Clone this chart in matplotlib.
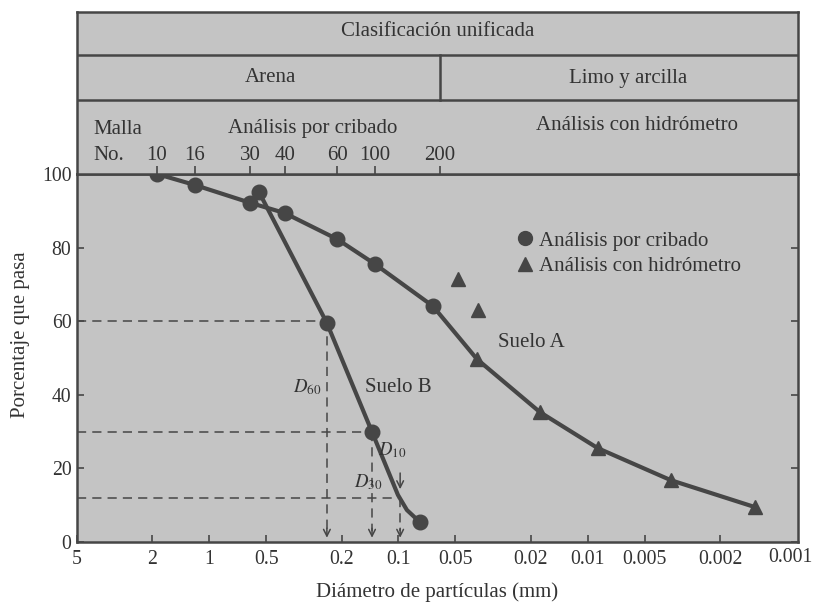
import matplotlib
matplotlib.use("Agg")
import matplotlib.pyplot as plt
from matplotlib.lines import Line2D
from matplotlib.ticker import NullLocator

plt.rcParams['font.family'] = ['Liberation Serif', 'DejaVu Serif']
plt.rcParams['mathtext.fontset'] = 'stix'

# ---------------- data ----------------
# Soil A - sieve analysis (mm, % passing)
a_sieve_d = [1.89, 1.19, 0.61, 0.40, 0.211, 0.133, 0.0658]
a_sieve_p = [100, 97, 92.2, 89.4, 82.3, 75.5, 64.1]
# Soil A - hydrometer analysis on the curve
a_hyd_d = [0.0385, 0.0179, 0.00885, 0.00364, 0.00131]
a_hyd_p = [49.7, 35.3, 25.5, 16.8, 9.5]
# Hydrometer points off the curve
off_hyd_d = [0.0485, 0.038]
off_hyd_p = [71.5, 63.0]
# Soil B - sieve analysis
b_sieve_d = [0.546, 0.239, 0.138, 0.0771]
b_sieve_p = [95.1, 59.5, 29.9, 5.4]
# Soil B curve trace
b_curve_d = [0.546, 0.239, 0.138, 0.1007, 0.0903, 0.0771]
b_curve_p = [95.1, 59.5, 29.9, 12.8, 8.7, 5.4]
# D60, D30, D10 read lines
d_labels = ['60', '30', '10']
d_values = [0.239, 0.138, 0.098]
d_levels = [60, 30, 12]

# Sieve mesh numbers (top scale)
mesh_no = ['10', '16', '30', '40', '60', '100', '200']
mesh_mm = [1.89, 1.19, 0.61, 0.40, 0.211, 0.133, 0.0605]

x_ticks = [5, 2, 1, 0.5, 0.2, 0.1, 0.05, 0.02, 0.01, 0.005, 0.002]
x_ticklabels = ['5', '2', '1', '0.5', '0.2', '0.1', '0.05', '0.02', '0.01', '0.005', '0.002']
x_last_label = '0.001'
y_ticks = [0, 20, 40, 60, 80, 100]

legend_labels = ['Análisis por cribado', 'Análisis con hidrómetro']

# ---------------- styling ----------------
BG = '#c4c4c4'
INK = '#464646'
TXT = '#333333'
FS = 15
TFS = 14.2
XLIM = (5, 0.000774)

W, H = 814, 605
fig = plt.figure(figsize=(W / 100, H / 100), dpi=100)
fig.patch.set_facecolor('white')

L, R, B, T = 77, 798, 542, 174
HT = 12
ax = fig.add_axes([L / W, 1 - B / H, (R - L) / W, (B - T) / H])
hx = fig.add_axes([L / W, 1 - T / H, (R - L) / W, (T - HT) / H])

for a in (ax, hx):
    a.set_facecolor(BG)
    a.set_xscale('log')
    a.set_xlim(*XLIM)
    for s in a.spines.values():
        s.set_linewidth(1.8)
        s.set_color(INK)

def fx(px):
    return (px - L) / (R - L)

def fy(py):
    return (B - py) / (B - T)

# ---- main plot ----
ax.set_ylim(0, 100)
ax.plot(a_sieve_d + a_hyd_d, a_sieve_p + a_hyd_p, color=INK, lw=3, zorder=3)
ax.plot(a_sieve_d, a_sieve_p, 'o', color=INK, ms=10.5, zorder=4)
ax.plot(a_hyd_d, a_hyd_p, '^', color=INK, ms=10, zorder=4)
ax.plot(off_hyd_d, off_hyd_p, '^', color=INK, ms=10, zorder=4)
ax.plot(b_curve_d, b_curve_p, color=INK, lw=3, zorder=3)
ax.plot(b_sieve_d, b_sieve_p, 'o', color=INK, ms=10.5, zorder=4)

dash = dict(color=INK, lw=1.1, ls=(0, (6, 4)), zorder=2)
for lab, d, lev in zip(d_labels, d_values, d_levels):
    ax.plot([XLIM[0], d], [lev, lev], **dash)
    ax.plot([d, d], [lev, 3], **dash)
    ax.annotate('', xy=(d, 0.4), xytext=(d, 4.5),
                arrowprops=dict(arrowstyle='->', color=INK, lw=1.1,
                                mutation_scale=12), zorder=2)
# solid arrow from D10 label to the curve
ax.annotate('', xy=(d_values[2], 13.6), xytext=(d_values[2], 19.5),
            arrowprops=dict(arrowstyle='->', color=INK, lw=1.1, mutation_scale=12))

DFS = 13.5
ax.text(fx(322), fy(387), r'$D_{60}$', transform=ax.transAxes, ha='right', va='center',
        fontsize=DFS, color=TXT)
ax.text(fx(383), fy(482), r'$D_{30}$', transform=ax.transAxes, ha='right', va='center',
        fontsize=DFS, color=TXT)
ax.text(fx(407), fy(450), r'$D_{10}$', transform=ax.transAxes, ha='right', va='center',
        fontsize=DFS, color=TXT)
ax.text(fx(365), fy(387), 'Suelo B', transform=ax.transAxes, ha='left', va='center',
        fontsize=FS, color=TXT)
ax.text(fx(498), fy(342), 'Suelo A', transform=ax.transAxes, ha='left', va='center',
        fontsize=FS, color=TXT)

handles = [Line2D([], [], marker='o', ls='none', color=INK, ms=10),
           Line2D([], [], marker='^', ls='none', color=INK, ms=10)]
ax.legend(handles, legend_labels, loc='upper left', bbox_to_anchor=(fx(517), fy(231)),
          frameon=False, handlelength=0.8, handletextpad=0.25, labelspacing=0.3,
          borderpad=0, borderaxespad=0, prop={'size': FS}, labelcolor=TXT)

ax.set_xticks(x_ticks)
ax.set_xticklabels(x_ticklabels)
ax.xaxis.set_minor_locator(NullLocator())
ax.set_yticks(y_ticks)
ax.tick_params(axis='both', direction='in', length=5, width=1.2, color=INK,
               labelsize=TFS, labelcolor=TXT, pad=6)
ax.tick_params(axis='y', right=True, pad=4)
ax.text(fx(790), -6 / (B - T), x_last_label, transform=ax.transAxes,
        ha='center', va='top', fontsize=TFS, color=TXT)
ax.set_xlabel('Diámetro de partículas (mm)', fontsize=FS, color=TXT, labelpad=9)
ax.set_ylabel('Porcentaje que pasa', fontsize=FS, color=TXT)
ax.yaxis.set_label_coords(fx(30), fy(335))

# ---- header ----
hx.set_ylim(0, 1)
hx.set_yticks([])
hx.set_xticks(mesh_mm)
hx.set_xticklabels([])
hx.xaxis.set_minor_locator(NullLocator())
hx.tick_params(axis='x', direction='in', length=6, width=1.2, color=INK)

def hy(py):
    return (T - py) / (T - HT)

hx.axhline(hy(55), color=INK, lw=1.8)
hx.axhline(hy(100), color=INK, lw=1.8)
hx.plot([mesh_mm[-1], mesh_mm[-1]], [hy(100), hy(55)], color=INK, lw=1.8)

hx.text(0.5, hy(31), 'Clasificación unificada', transform=hx.transAxes,
        ha='center', va='center', fontsize=FS, color=TXT)
hx.text(fx(270), hy(78), 'Arena', transform=hx.transAxes,
        ha='center', va='center', fontsize=FS, color=TXT)
hx.text(fx(628), hy(79), 'Limo y arcilla', transform=hx.transAxes,
        ha='center', va='center', fontsize=FS, color=TXT)
hx.text(fx(637), hy(125), 'Análisis con hidrómetro', transform=hx.transAxes,
        ha='center', va='center', fontsize=FS, color=TXT)
hx.text(fx(313), hy(129), 'Análisis por cribado', transform=hx.transAxes,
        ha='center', va='center', fontsize=FS, color=TXT)
hx.text(fx(93), hy(129), 'Malla', transform=hx.transAxes,
        ha='left', va='center', fontsize=FS, color=TXT)
hx.text(fx(93), hy(155), 'No.', transform=hx.transAxes,
        ha='left', va='center', fontsize=FS, color=TXT)
for m, d in zip(mesh_no, mesh_mm):
    hx.text(d, hy(155), m, ha='center', va='center', fontsize=FS, color=TXT)

fig.savefig('out.png', dpi=100, facecolor='white')
